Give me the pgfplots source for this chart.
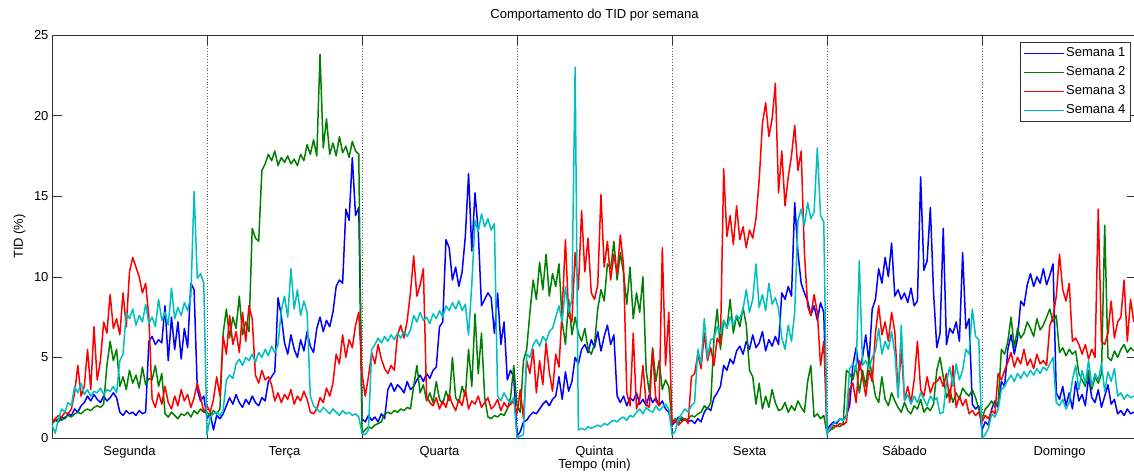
\documentclass[border=0pt]{standalone}
\usepackage{fontspec}
\setmainfont{Liberation Sans}
\usepackage{pgfplots}
\usepackage{pgfplotstable}
\pgfplotsset{compat=1.18}
\definecolor{mblue}{rgb}{0,0,1}
\definecolor{mgreen}{rgb}{0,0.5,0}
\definecolor{mred}{rgb}{1,0,0}
\definecolor{mcyan}{rgb}{0,0.75,0.75}

% Semana 1 (one value every 30 min, 48 per day)
\pgfplotstableread[row sep=\\, header=false]{
0.9\\1.1\\1.0\\1.3\\1.2\\1.5\\1.4\\1.8\\1.6\\2.0\\2.2\\2.6\\2.3\\2.7\\2.4\\2.2\\2.6\\2.3\\2.5\\2.8\\2.5\\1.6\\1.4\\1.7\\1.5\\1.6\\1.4\\1.7\\1.5\\1.6\\6.0\\6.3\\5.8\\6.1\\5.9\\8.2\\4.8\\7.5\\5.5\\7.2\\4.9\\6.8\\5.6\\9.6\\9.2\\3.0\\2.3\\2.6\\
1.2\\1.5\\0.5\\1.4\\1.2\\1.5\\2.0\\2.5\\2.1\\2.7\\2.2\\1.9\\2.4\\2.1\\2.6\\2.2\\2.0\\2.5\\2.3\\3.5\\3.8\\4.1\\8.7\\7.6\\5.9\\5.2\\6.4\\5.5\\5.0\\6.1\\5.4\\6.6\\5.7\\5.3\\6.8\\7.5\\6.6\\7.3\\6.9\\7.8\\9.4\\9.8\\9.6\\14.2\\13.5\\17.4\\13.8\\14.3\\
1.2\\1.0\\1.4\\1.1\\1.3\\1.0\\1.5\\1.2\\3.0\\3.4\\2.9\\3.3\\3.1\\2.8\\3.5\\3.0\\3.2\\3.6\\3.9\\3.5\\4.0\\3.7\\4.2\\4.4\\6.9\\7.2\\12.3\\11.8\\9.8\\10.6\\9.4\\10.3\\12.5\\16.4\\11.6\\15.2\\12.8\\8.2\\8.6\\9.0\\8.7\\6.5\\9.0\\5.8\\7.2\\3.6\\4.2\\3.8\\
0.1\\0.4\\1.0\\1.1\\1.4\\1.6\\1.5\\1.8\\2.1\\2.3\\2.0\\2.4\\2.6\\3.8\\2.4\\4.1\\2.9\\3.5\\5.0\\4.6\\5.5\\5.8\\5.3\\6.1\\5.6\\6.6\\5.4\\6.3\\7.0\\5.8\\6.4\\2.6\\2.2\\2.6\\2.0\\2.5\\2.3\\2.8\\2.1\\2.4\\2.0\\2.7\\2.2\\2.5\\2.0\\2.3\\1.8\\1.6\\
0.8\\1.0\\1.3\\1.1\\1.2\\1.0\\1.1\\0.9\\1.2\\1.0\\1.6\\1.9\\1.7\\2.5\\2.8\\3.2\\4.5\\4.2\\4.9\\4.6\\5.4\\5.7\\5.2\\6.0\\5.5\\6.4\\5.6\\5.9\\6.6\\5.4\\6.1\\5.7\\6.3\\5.8\\9.0\\8.6\\9.4\\8.8\\14.6\\11.5\\9.6\\9.0\\8.5\\7.6\\8.2\\7.3\\8.4\\7.8\\
0.5\\0.8\\1.0\\0.9\\1.2\\1.1\\1.4\\2.0\\4.5\\5.6\\4.2\\5.0\\6.4\\4.7\\8.0\\8.6\\10.5\\9.6\\11.2\\10.0\\12.1\\8.8\\9.2\\8.6\\9.0\\8.4\\9.3\\8.2\\8.5\\16.2\\10.4\\11.0\\14.3\\9.0\\5.6\\6.5\\13.0\\5.8\\6.8\\6.5\\7.2\\6.0\\11.5\\6.8\\7.4\\2.1\\1.8\\2.0\\
0.5\\1.0\\0.8\\1.8\\2.3\\1.9\\3.5\\3.2\\5.5\\6.4\\5.2\\6.2\\8.5\\8.2\\9.5\\10.2\\9.4\\10.0\\9.6\\10.5\\9.5\\10.1\\10.8\\2.8\\2.4\\3.2\\2.0\\2.8\\1.8\\3.5\\2.3\\2.7\\2.0\\3.8\\2.5\\2.2\\3.0\\1.9\\2.6\\3.3\\2.1\\2.4\\1.5\\1.7\\1.4\\1.8\\1.5\\1.6\\
}\semA

% Semana 2
\pgfplotstableread[row sep=\\, header=false]{
0.9\\1.1\\1.2\\1.1\\1.3\\1.4\\1.3\\1.5\\1.6\\1.5\\1.7\\1.8\\1.7\\1.9\\2.0\\1.9\\2.1\\4.5\\6.0\\4.8\\5.5\\3.2\\3.8\\3.0\\4.2\\3.4\\3.9\\3.1\\4.4\\3.3\\3.7\\3.6\\4.5\\3.2\\4.0\\1.5\\1.3\\1.6\\1.4\\1.2\\1.5\\1.4\\1.6\\1.3\\1.7\\1.5\\1.8\\1.6\\
1.6\\1.4\\1.7\\1.5\\1.8\\6.5\\8.0\\6.2\\7.5\\6.8\\8.8\\6.4\\7.2\\6.6\\13.0\\12.4\\12.2\\16.6\\17.0\\17.6\\17.2\\17.8\\16.9\\17.4\\17.1\\17.5\\17.0\\17.3\\16.9\\17.6\\17.2\\18.2\\17.6\\18.5\\17.5\\23.8\\18.0\\19.8\\17.6\\18.3\\17.5\\18.7\\17.7\\18.1\\17.4\\18.4\\17.8\\17.6\\
0.3\\0.5\\0.7\\0.6\\0.8\\0.9\\1.0\\1.5\\1.6\\1.5\\1.7\\1.6\\1.8\\1.7\\1.9\\1.8\\3.2\\4.5\\2.8\\3.3\\2.3\\2.8\\2.2\\3.5\\2.4\\2.1\\2.9\\2.3\\5.0\\2.5\\2.2\\3.2\\2.6\\5.5\\3.2\\7.7\\4.0\\6.5\\2.5\\1.3\\1.2\\1.4\\1.3\\1.5\\1.4\\1.8\\2.5\\4.5\\
2.0\\1.6\\4.8\\5.5\\7.8\\9.8\\8.6\\10.9\\9.2\\11.4\\8.8\\10.2\\9.4\\10.8\\7.2\\5.8\\8.6\\6.4\\7.5\\6.5\\6.0\\6.8\\5.5\\5.2\\5.8\\8.0\\9.2\\8.5\\10.8\\10.5\\12.2\\9.8\\11.5\\10.2\\8.3\\10.6\\7.4\\9.0\\7.8\\10.0\\4.2\\2.8\\5.6\\3.5\\4.8\\3.0\\3.6\\3.2\\
1.0\\1.2\\0.9\\1.3\\1.1\\1.2\\1.4\\1.3\\1.5\\1.6\\2.0\\1.8\\2.2\\6.2\\8.0\\5.5\\7.3\\6.8\\8.6\\6.5\\7.6\\6.9\\8.1\\7.0\\4.2\\3.8\\2.1\\3.4\\1.8\\2.6\\1.9\\3.0\\2.2\\1.7\\1.8\\2.2\\1.6\\2.0\\1.7\\2.3\\1.9\\1.6\\3.5\\4.5\\1.3\\1.5\\1.2\\1.4\\
0.3\\0.5\\0.6\\0.8\\0.7\\0.9\\4.2\\4.0\\3.6\\4.5\\2.8\\4.2\\3.2\\5.0\\3.8\\2.6\\2.2\\3.8\\2.4\\2.0\\2.8\\2.3\\1.9\\1.6\\2.2\\1.7\\1.5\\2.0\\1.8\\2.4\\1.6\\1.9\\1.7\\2.1\\4.2\\5.0\\3.8\\2.5\\3.0\\2.2\\2.8\\2.4\\3.1\\2.8\\2.6\\3.0\\2.5\\1.8\\
1.2\\1.8\\2.0\\2.3\\1.9\\2.2\\5.5\\5.2\\6.0\\7.5\\5.6\\6.8\\6.2\\6.5\\7.2\\6.8\\6.3\\7.4\\6.7\\7.0\\7.5\\8.0\\7.2\\7.6\\5.3\\5.6\\5.1\\5.5\\5.2\\5.4\\4.0\\3.6\\3.2\\4.2\\3.0\\3.8\\3.4\\4.0\\13.2\\5.0\\4.8\\5.4\\5.0\\5.5\\5.8\\5.3\\5.6\\5.4\\
}\semB

% Semana 3
\pgfplotstableread[row sep=\\, header=false]{
1.0\\1.2\\1.4\\1.3\\1.6\\1.5\\1.8\\2.8\\4.5\\2.6\\3.2\\5.5\\3.0\\6.9\\3.6\\4.8\\7.2\\6.5\\8.9\\6.8\\7.4\\6.4\\9.0\\6.9\\10.3\\11.2\\10.6\\10.0\\9.0\\9.6\\7.5\\2.4\\1.9\\2.8\\2.1\\3.2\\2.2\\1.8\\2.6\\2.0\\3.0\\2.3\\2.7\\1.9\\2.5\\3.4\\2.6\\1.6\\
2.0\\1.6\\2.4\\3.8\\2.6\\6.3\\5.2\\7.6\\5.8\\6.6\\5.3\\7.8\\6.0\\8.2\\7.4\\3.9\\3.4\\4.2\\3.6\\3.8\\3.3\\2.3\\2.8\\2.2\\2.7\\2.4\\3.0\\2.1\\2.6\\2.3\\2.9\\2.4\\1.6\\1.5\\1.8\\2.5\\2.2\\3.1\\2.6\\3.4\\5.2\\4.6\\6.4\\5.0\\6.1\\5.6\\7.0\\7.8\\
4.0\\2.6\\3.8\\5.3\\4.6\\5.8\\4.9\\4.3\\4.0\\4.5\\4.2\\6.4\\7.0\\6.2\\7.3\\9.0\\11.3\\8.8\\9.5\\10.5\\2.6\\2.2\\2.0\\2.5\\1.8\\2.3\\1.9\\2.7\\2.1\\1.7\\2.4\\2.0\\3.0\\1.8\\2.3\\2.1\\2.6\\1.9\\2.2\\2.5\\1.8\\2.0\\2.4\\1.7\\2.2\\1.9\\2.1\\2.3\\
1.5\\3.0\\1.2\\4.8\\4.0\\5.5\\2.8\\4.8\\3.3\\5.9\\4.1\\2.9\\5.2\\4.4\\8.0\\12.3\\7.6\\7.2\\11.5\\9.2\\14.1\\10.3\\12.4\\9.0\\8.6\\9.5\\15.1\\10.6\\12.2\\9.8\\11.4\\10.2\\12.6\\10.7\\2.8\\2.0\\6.5\\1.8\\2.4\\4.5\\2.1\\1.9\\5.5\\2.3\\2.0\\11.8\\4.5\\7.8\\
0.9\\1.1\\0.8\\1.0\\1.2\\0.9\\3.8\\4.0\\5.2\\4.3\\6.5\\4.8\\5.6\\4.5\\6.2\\5.8\\16.7\\12.5\\13.8\\12.0\\14.4\\12.3\\13.1\\11.8\\12.9\\12.4\\13.6\\16.0\\19.5\\20.8\\18.7\\19.8\\22.0\\15.2\\17.8\\14.4\\16.2\\17.5\\19.4\\16.6\\17.8\\11.5\\8.2\\7.6\\8.9\\7.8\\4.5\\6.0\\
0.3\\0.5\\0.8\\0.7\\0.9\\0.8\\1.0\\3.0\\3.4\\2.2\\4.8\\3.8\\2.6\\4.2\\3.5\\6.5\\8.2\\6.4\\7.2\\6.0\\7.8\\6.6\\2.8\\5.5\\2.4\\3.2\\2.2\\3.6\\6.0\\3.0\\2.6\\3.8\\2.8\\3.4\\3.5\\3.8\\3.2\\4.0\\2.2\\4.5\\1.9\\2.6\\2.0\\2.4\\1.5\\1.7\\1.4\\1.6\\
1.0\\1.4\\1.2\\1.7\\1.5\\4.0\\3.6\\4.2\\4.7\\5.3\\4.4\\5.0\\4.6\\5.5\\4.5\\4.9\\4.3\\5.2\\4.6\\4.8\\4.5\\7.0\\7.5\\8.8\\11.4\\9.2\\8.5\\9.6\\6.0\\6.2\\5.8\\5.2\\5.8\\4.9\\5.5\\5.0\\14.2\\6.0\\5.8\\6.5\\8.5\\6.2\\7.2\\7.5\\9.8\\6.0\\8.6\\7.2\\
}\semC

% Semana 4
\pgfplotstableread[row sep=\\, header=false]{
0.8\\0.3\\1.2\\1.8\\1.6\\2.2\\2.0\\3.2\\2.8\\3.4\\2.7\\3.0\\2.6\\2.9\\2.8\\3.1\\2.7\\3.0\\2.9\\3.2\\2.8\\4.8\\5.2\\7.8\\7.4\\8.0\\7.0\\7.6\\7.2\\8.3\\7.1\\7.5\\6.9\\8.6\\7.3\\7.8\\7.0\\9.3\\7.4\\8.1\\7.6\\8.4\\7.9\\8.8\\15.3\\9.9\\10.2\\9.6\\
0.2\\1.3\\1.5\\1.6\\1.4\\1.7\\3.6\\3.9\\3.7\\4.6\\4.9\\4.5\\5.0\\4.8\\5.2\\4.7\\5.3\\5.0\\5.5\\5.1\\5.7\\5.3\\5.8\\7.9\\8.8\\7.5\\10.5\\8.0\\9.2\\7.6\\8.5\\7.8\\2.6\\2.0\\1.8\\1.6\\1.9\\1.7\\1.5\\1.8\\1.6\\1.4\\1.7\\1.5\\1.6\\1.4\\1.5\\1.3\\
0.3\\0.2\\0.5\\5.5\\5.8\\6.2\\5.9\\6.3\\6.0\\6.4\\6.1\\6.5\\6.2\\6.6\\6.3\\6.7\\7.6\\7.2\\7.8\\7.3\\7.5\\7.1\\7.7\\7.4\\7.9\\7.5\\8.2\\7.9\\8.4\\8.0\\8.5\\7.9\\8.3\\6.4\\9.5\\13.5\\12.8\\13.9\\13.1\\13.6\\12.9\\13.3\\2.6\\2.3\\2.8\\2.4\\2.2\\2.5\\
0.0\\0.1\\0.2\\5.2\\5.0\\5.8\\6.1\\5.7\\6.3\\6.0\\6.6\\6.8\\7.5\\8.2\\7.2\\9.4\\7.8\\8.6\\23.0\\0.5\\0.6\\0.5\\0.7\\0.6\\0.7\\0.8\\0.7\\0.9\\0.8\\1.0\\1.1\\1.0\\1.2\\1.3\\1.1\\1.4\\1.3\\1.6\\1.8\\1.5\\1.9\\1.7\\1.6\\2.0\\1.7\\1.9\\2.1\\1.8\\
0.2\\0.4\\1.2\\1.5\\1.8\\1.6\\2.0\\2.2\\5.5\\4.6\\7.4\\5.0\\6.1\\6.2\\6.9\\6.5\\7.3\\6.8\\7.5\\7.0\\7.6\\7.4\\8.0\\9.2\\7.8\\8.6\\10.8\\8.1\\8.9\\7.9\\9.6\\8.3\\8.7\\8.0\\6.2\\5.5\\7.0\\6.0\\7.8\\13.5\\14.2\\13.2\\14.6\\13.6\\14.0\\18.0\\13.8\\13.4\\
0.2\\0.6\\0.9\\1.0\\1.2\\1.1\\1.3\\4.3\\4.6\\4.2\\11.0\\4.5\\4.8\\4.3\\5.0\\5.4\\6.8\\5.2\\6.0\\5.5\\6.6\\5.3\\2.5\\7.0\\2.3\\2.7\\2.1\\2.6\\2.2\\2.8\\2.4\\2.0\\2.6\\2.3\\2.5\\1.5\\1.6\\3.5\\4.4\\3.2\\4.6\\3.6\\4.2\\5.5\\5.2\\8.0\\6.3\\6.1\\
0.0\\0.2\\0.6\\1.5\\1.3\\1.8\\3.0\\3.2\\3.6\\3.9\\3.5\\4.0\\3.7\\4.1\\3.8\\4.2\\3.9\\4.3\\4.0\\4.4\\4.2\\4.6\\5.0\\2.2\\2.0\\2.4\\1.8\\2.2\\3.6\\4.5\\3.0\\4.2\\3.4\\4.8\\3.2\\4.0\\3.6\\4.6\\2.9\\4.1\\3.5\\4.3\\2.6\\2.8\\2.4\\2.7\\2.5\\2.6\\
}\semD

\begin{document}
\begin{tikzpicture}
\begin{axis}[
  at={(0pt,0pt)}, anchor=south west,
  scale only axis, width=1085pt, height=403pt,
  xmin=0, xmax=10080, ymin=0, ymax=25,
  font=\fontsize{13}{15}\selectfont,
  /pgf/number format/assume math mode=true,
  xtick={1440,2880,4320,5760,7200,8640},
  xticklabels={},
  extra x ticks={720,2160,3600,5040,6480,7920,9360},
  extra x tick labels={Segunda,Terça,Quarta,Quinta,Sexta,Sábado,Domingo},
  extra x tick style={major tick length=0pt, grid=none},
  xmajorgrids,
  major grid style={black!65, dash pattern=on 0.8pt off 2pt, line width=0.6pt},
  ytick={0,5,10,15,20,25},
  tick align=inside, major tick length=10pt,
  tick style={black!80, line width=0.6pt},
  axis line style={black!80, line width=0.8pt},
  xticklabel style={anchor=base, yshift=-17pt, font=\fontsize{13}{15}\selectfont},
  yticklabel style={font=\fontsize{13}{15}\selectfont},
  title={Comportamento do TID por semana},
  title style={at={(axis description cs:0.5,1)}, anchor=base, yshift=10pt, font=\fontsize{13}{15}\selectfont},
  xlabel={Tempo (min)},
  xlabel style={at={(axis description cs:0.5,0)}, anchor=base, yshift=-30pt, font=\fontsize{13}{15}\selectfont},
  ylabel={TID (\%)},
  every axis y label/.style={at={(axis description cs:0,0.5)}, xshift=-29pt, rotate=90, anchor=base, font=\fontsize{13}{15}\selectfont},
  legend style={at={(axis description cs:0.9942,0.9826)}, anchor=north east, draw=black!80, fill=white, line width=0.6pt,
    font=\fontsize{13}{15}\selectfont, row sep=3pt, inner sep=3pt,
    nodes={inner sep=2pt, text height=9.5pt, text depth=2.5pt}},
  legend cell align=left,
  legend image code/.code={\draw[#1, line width=0.9pt] (0pt,0pt) -- (40pt,0pt);},
  every axis plot/.append style={line width=1.5pt, line join=round},
]
\addplot[color=mblue, draw=mblue] table[x expr=\coordindex*30, y index=0] {\semA};
\addlegendentry{Semana 1}
\addplot[color=mgreen, draw=mgreen] table[x expr=\coordindex*30, y index=0] {\semB};
\addlegendentry{Semana 2}
\addplot[color=mred, draw=mred] table[x expr=\coordindex*30, y index=0] {\semC};
\addlegendentry{Semana 3}
\addplot[color=mcyan, draw=mcyan] table[x expr=\coordindex*30, y index=0] {\semD};
\addlegendentry{Semana 4}
\end{axis}
\pgfresetboundingbox
\path[use as bounding box] (-52pt,-36pt) rectangle (1082pt,438pt);
\end{tikzpicture}
\end{document}
